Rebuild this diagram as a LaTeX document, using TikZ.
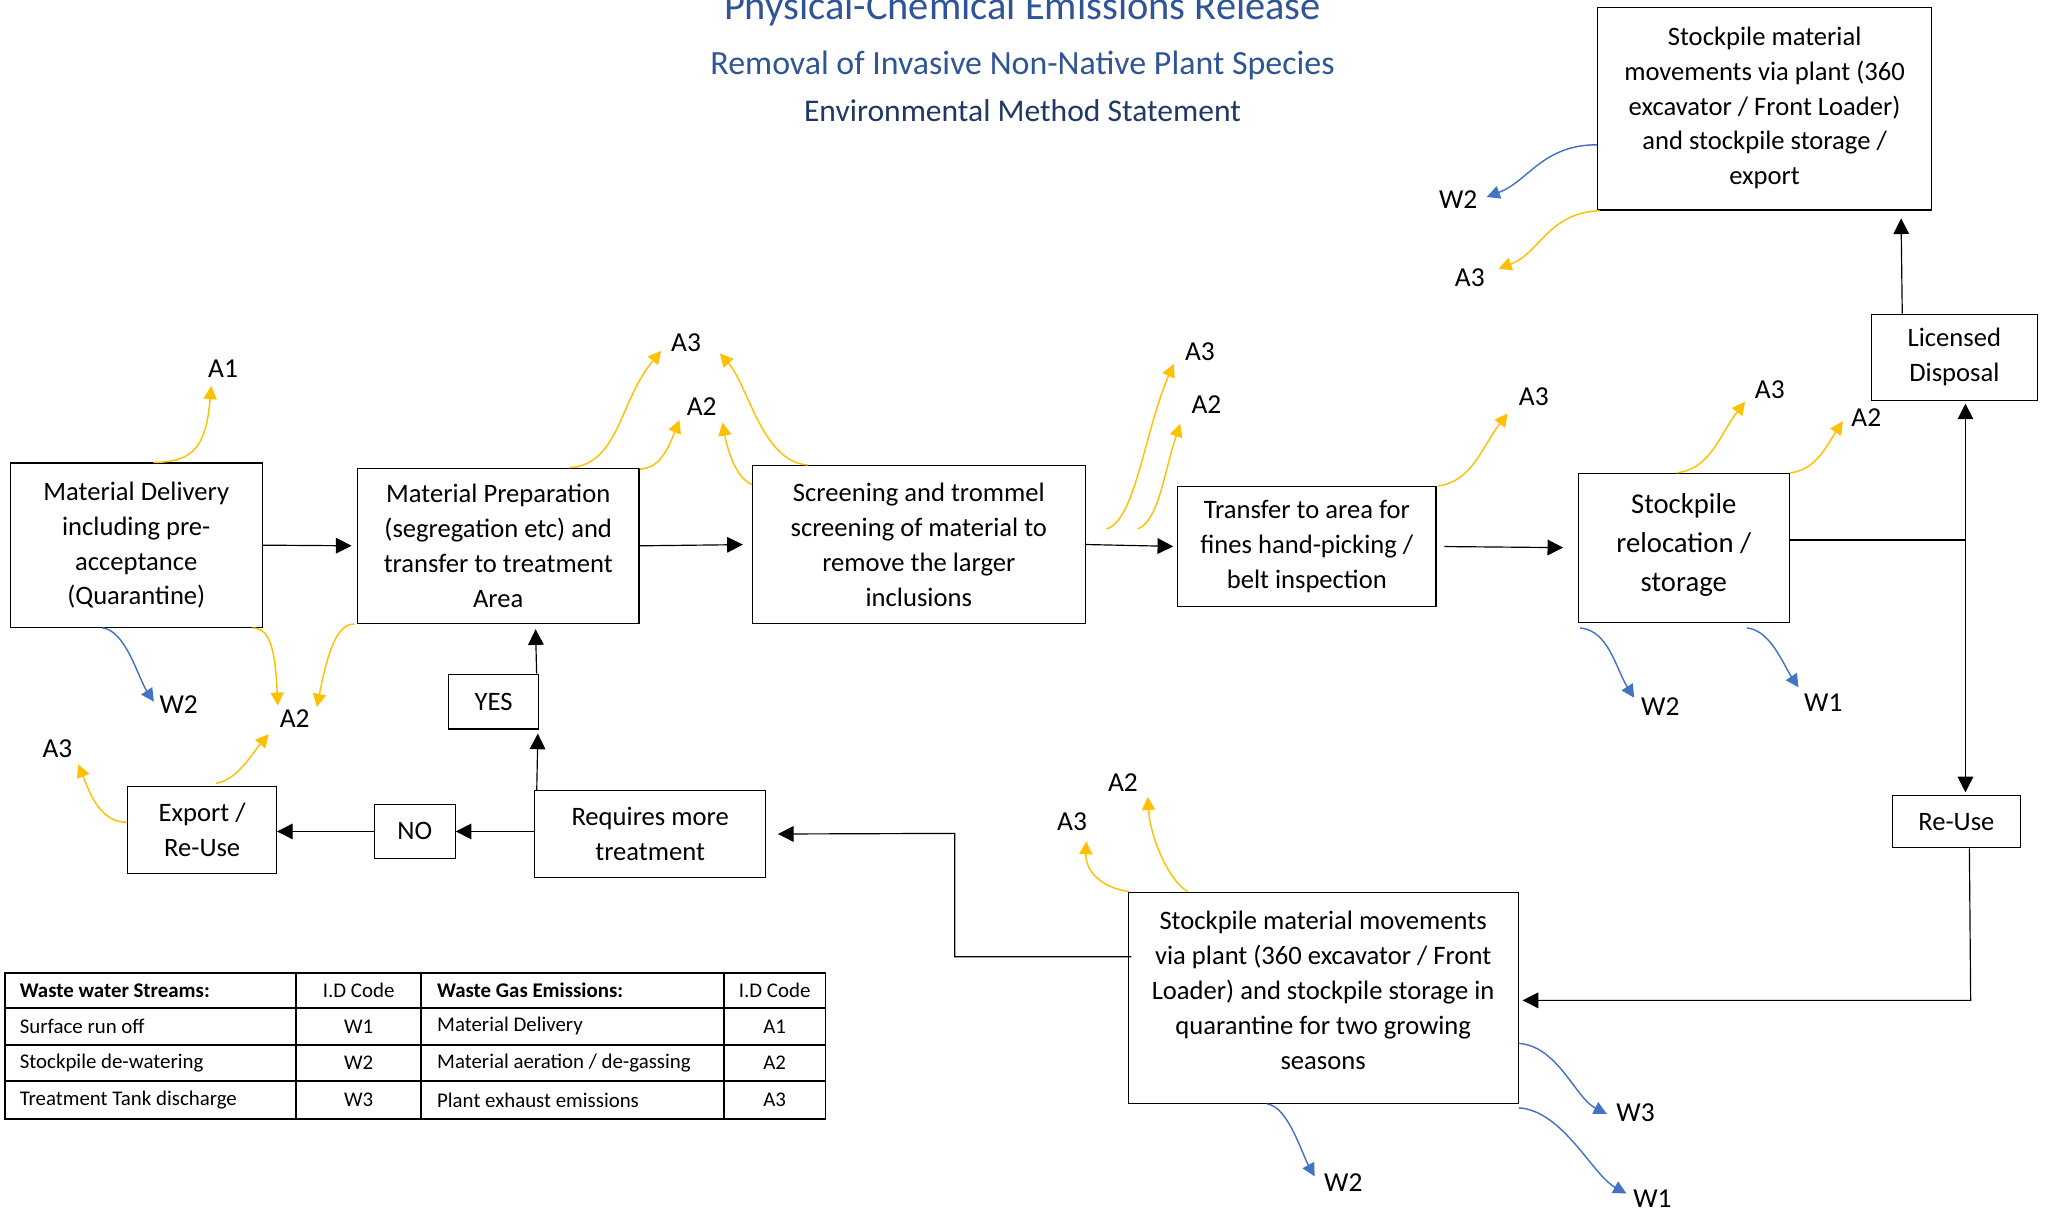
\documentclass[tikz,border=0pt]{standalone}
\usepackage{fontspec}
\setmainfont{Carlito}
\usetikzlibrary{arrows.meta,calc}
\definecolor{ayel}{HTML}{FFC000}
\definecolor{wblu}{HTML}{4472C4}
\definecolor{tblue}{HTML}{2F5597}
\definecolor{tdark}{HTML}{1F3864}
\begin{document}
\begin{tikzpicture}[x=1pt,y=-1pt,
  box/.style={draw, line width=0.9pt, inner sep=0pt, align=center, font=\fontsize{20.4}{26.8}\selectfont},
  lbl/.style={font=\fontsize{21}{24}\selectfont, inner sep=0pt},
  arr/.style={-{Triangle[length=12pt,width=12pt]}, line width=0.9pt},
  ya/.style={ayel, line width=1.1pt, -{Triangle[length=10pt,width=10pt]}},
  wa/.style={wblu, line width=1.1pt, -{Triangle[length=10pt,width=10pt]}},
  tcell/.style={font=\fontsize{16}{18}\selectfont, inner sep=0pt},
]
\fill[white] (0,0) rectangle (1568,932);
\useasboundingbox (0,0) rectangle (1568,932);

% titles
\node[anchor=base, text=tblue, font=\fontsize{31}{34}\selectfont, inner sep=0pt] (t1) at (784,15) {Physical-Chemical Emissions Release};
\node[anchor=base, text=tblue, font=\fontsize{26}{30}\selectfont, inner sep=0pt] (t2) at (784,57) {Removal of Invasive Non-Native Plant Species};
\node[anchor=base, text=tdark, font=\fontsize{24.2}{28}\selectfont, inner sep=0pt] (t3) at (784,93) {Environmental Method Statement};

% boxes
\node[box, minimum width=193pt, minimum height=126pt] (b1) at (104.5,418) {Material Delivery\\including pre-\\acceptance\\(Quarantine)};
\node[box, minimum width=216pt, minimum height=119pt] (b2) at (382,418.5) {Material Preparation\\(segregation etc) and\\transfer to treatment\\Area};
\node[box, minimum width=255pt, minimum height=121pt] (sc) at (704.5,417.5) {Screening and trommel\\screening of material to\\remove the larger\\inclusions};
\node[box, minimum width=198pt, minimum height=92pt] (tr) at (1002,419) {Transfer to area for\\fines hand-picking /\\belt inspection};
\node[box, minimum width=162pt, minimum height=114pt, font=\fontsize{22}{30}\selectfont] (sr) at (1291,420) {Stockpile\\relocation /\\storage\\[-22pt]\mbox{}};
\node[box, minimum width=127pt, minimum height=66pt] (ld) at (1498.5,274) {Licensed\\Disposal};
\node[box, minimum width=256pt, minimum height=155pt] (ts) at (1353,83.5) {Stockpile material\\movements via plant (360\\excavator / Front Loader)\\and stockpile storage /\\export\\[-22pt]\mbox{}};
\node[box, minimum width=98pt, minimum height=40pt] (ru) at (1500,630) {Re-Use};
\node[box, minimum width=299pt, minimum height=162pt] (bs) at (1014.5,765) {Stockpile material movements\\via plant (360 excavator / Front\\Loader) and stockpile storage in\\quarantine for two growing\\seasons\\[-14.8pt]\mbox{}};
\node[box, minimum width=177pt, minimum height=67pt] (rm) at (498.5,639.5) {Requires more\\treatment};
\node[box, minimum width=62pt, minimum height=41pt] (no) at (318,637.5) {NO};
\node[box, minimum width=69pt, minimum height=42pt] (yes) at (378.5,538) {YES};
\node[box, minimum width=114pt, minimum height=67pt] (ex) at (155,636.5) {Export /\\Re-Use};

% black flow arrows
\draw[arr, shorten >=4pt] (b1.east) -- (b2.west);
\draw[arr, shorten >=7pt] (b2.east) -- (sc.west);
\draw[arr, shorten >=3pt] (sc.east) -- (tr.west);
\draw[arr, shorten <=6pt, shorten >=11pt] (tr.east) -- (sr.west);
\coordinate (j) at (1507,414);
\draw[line width=0.9pt] (sr.east |- j) -- (j);
\draw[arr, shorten >=2pt] (j) -- (j |- ld.south);
\draw[arr, shorten >=2pt] (j) -- (j |- ru.north);
\draw[arr, shorten >=6pt] ($(ld.north west)+(24,0)$) -- ($(ts.south west)+(233,0)$);
\draw[arr, shorten >=3pt] ($(ru.south)+(10,0)$) -- (1511,767) -- (bs.east |- 0,767);
\draw[arr, shorten >=9pt] ($(bs.north west)+(3,50)$) -| (732,639) -- (rm.east);
\draw[arr] (rm.west |- no.east) -- (no.east);
\draw[arr] (no.west) -- (ex.east |- no.west);
\draw[arr, shorten >=3pt] ($(rm.north west)+(2,0)$) -- ($(yes.south east)+(-1,0)$);
\draw[arr, shorten >=4pt] ($(yes.north east)+(-2,0)$) -- ($(b2.south west)+(137,0)$);

% emission tips
\coordinate (tA1) at (162,296);
\coordinate (tb) at (213,541);
\coordinate (tc) at (243,542);
\coordinate (td) at (206,563);
\coordinate (te) at (60,586);
\coordinate (tf) at (507,269);
\coordinate (tg) at (521,322);
\coordinate (th) at (552,271);
\coordinate (ti) at (554,324);
\coordinate (tj) at (900,279);
\coordinate (tk) at (905,325);
\coordinate (tl) at (1156,317);
\coordinate (tm) at (1338,308);
\coordinate (tn) at (1413,323);
\coordinate (to) at (1149,206);
\coordinate (ts2) at (1140,151);
\coordinate (tp) at (833,645);
\coordinate (tq) at (880,611);
\coordinate (tr2) at (118,538);
\coordinate (tt) at (1253,535);
\coordinate (tu) at (1379,527);
\coordinate (tv) at (1232,854);
\coordinate (tw) at (1247,915);
\coordinate (tx) at (1008,902);

% yellow emissions
\draw[ya] ($(b1.north west)+(110,0)$) .. controls +(32,0) and +(-4,45) .. (tA1);
\draw[ya] ($(b1.south east)+(-8,0)$) .. controls +(14,0) and +(-2,-42) .. (tb);
\draw[ya] ($(b2.south west)+(-2,0)$) .. controls +(-14,0) and +(8,-40) .. (tc);
\draw[ya] ($(ex.north west)+(68,-2)$) .. controls +(16,-2) and +(-12,14) .. (td);
\draw[ya] ($(ex.west)+(0,-6)$) .. controls +(-20,0) and +(10,25) .. (te);
\draw[ya] ($(b2.north west)+(163,0)$) .. controls +(38,-2) and +(-32,38) .. (tf);
\draw[ya] ($(b2.north east)+(0,1)$) .. controls +(16,0) and +(-8,20) .. (tg);
\draw[ya] ($(sc.north west)+(43,0)$) .. controls +(-35,-2) and +(22,25) .. (th);
\draw[ya] ($(sc.north west)+(0,15)$) .. controls +(-12,-5) and +(4,22) .. (ti);
\draw[ya] ($(sc.east)+(16,-12)$) .. controls +(22,-6) and +(-22,50) .. (tj);
\draw[ya] ($(sc.east)+(40,-12)$) .. controls +(16,-6) and +(-12,35) .. (tk);
\draw[ya] ($(tr.north east)+(1,0)$) .. controls +(26,-3) and +(-20,26) .. (tl);
\draw[ya] ($(sr.north west)+(76,0)$) .. controls +(26,-3) and +(-20,26) .. (tm);
\draw[ya] (sr.north east) .. controls +(20,-2) and +(-12,18) .. (tn);
\draw[ya] ($(ts.south west)+(2,0)$) .. controls +(-40,2) and +(32,-12) .. (to);
\draw[ya] ($(bs.north west)+(1,0)$) .. controls +(-22,-3) and +(-1,22) .. (tp);
\draw[ya] ($(bs.north west)+(46,0)$) .. controls +(-14,-8) and +(2,32) .. (tq);

% blue emissions
\draw[wa] ($(ts.west)+(0,27.5)$) .. controls +(-42,0) and +(32,-12) .. (ts2);
\draw[wa] ($(b1.south west)+(71,0)$) .. controls +(18,2) and +(-12,-18) .. (tr2);
\draw[wa] ($(sr.south west)+(2,4)$) .. controls +(22,2) and +(-14,-22) .. (tt);
\draw[wa] ($(sr.south west)+(130,4)$) .. controls +(18,2) and +(-12,-18) .. (tu);
\draw[wa] ($(bs.east)+(0,35)$) .. controls +(30,2) and +(-24,-12) .. (tv);
\draw[wa] ($(bs.south east)+(0,3)$) .. controls +(34,2) and +(-26,-14) .. (tw);
\draw[wa] ($(bs.south west)+(107,0)$) .. controls +(16,2) and +(-10,-18) .. (tx);

% emission labels
\node[lbl] (lA1) at (171,283) {A1};
\node[lbl] (lA2a) at (226,551) {A2};
\node[lbl] (lW2a) at (137,540) {W2};
\node[lbl] (lA3a) at (44,574) {A3};
\node[lbl] (lA3b) at (526,263) {A3};
\node[lbl] (lA2b) at (538,312) {A2};
\node[lbl] (lA3c) at (920,270) {A3};
\node[lbl] (lA2c) at (925,310) {A2};
\node[lbl] (lA3d) at (1176,304) {A3};
\node[lbl] (lA3e) at (1357,299) {A3};
\node[lbl] (lA2d) at (1431,320) {A2};
\node[lbl] (lW2b) at (1273,542) {W2};
\node[lbl] (lW1a) at (1398,539) {W1};
\node[lbl] (lW2c) at (1118,153) {W2};
\node[lbl] (lA3f) at (1127,213) {A3};
\node[lbl] (lA2e) at (861,600) {A2};
\node[lbl] (lA3g) at (822,630) {A3};
\node[lbl] (lW3) at (1254,853) {W3};
\node[lbl] (lW1b) at (1267,919) {W1};
\node[lbl] (lW2d) at (1030,907) {W2};

% legend table
\draw[line width=1.4pt] (4,746) rectangle (633,858);
\foreach \yy in {773,801,829} \draw[line width=1.4pt] (4,\yy) -- (633,\yy);
\foreach \xx in {227,323,555} \draw[line width=1.4pt] (\xx,746) -- (\xx,858);
\node[tcell, anchor=west, font=\fontsize{16}{18}\selectfont\bfseries] (h1) at (15,759.5) {Waste water Streams:};
\node[tcell] (h2) at (275,759.5) {I.D Code};
\node[tcell, anchor=west, font=\fontsize{16}{18}\selectfont\bfseries] (h3) at (335,759.5) {Waste Gas Emissions:};
\node[tcell] (h4) at (594,759.5) {I.D Code};
\node[tcell, anchor=west] (r1a) at (15,787) {Surface run off};
\node[tcell] (r1b) at (275,787) {W1};
\node[tcell, anchor=west] (r1c) at (335,787) {Material Delivery};
\node[tcell] (r1d) at (594,787) {A1};
\node[tcell, anchor=west] (r2a) at (15,815) {Stockpile de-watering};
\node[tcell] (r2b) at (275,815) {W2};
\node[tcell, anchor=west] (r2c) at (335,815) {Material aeration / de-gassing};
\node[tcell] (r2d) at (594,815) {A2};
\node[tcell, anchor=west] (r3a) at (15,843.5) {Treatment Tank discharge};
\node[tcell] (r3b) at (275,843.5) {W3};
\node[tcell, anchor=west] (r3c) at (335,843.5) {Plant exhaust emissions};
\node[tcell] (r3d) at (594,843.5) {A3};
\end{tikzpicture}
\end{document}
